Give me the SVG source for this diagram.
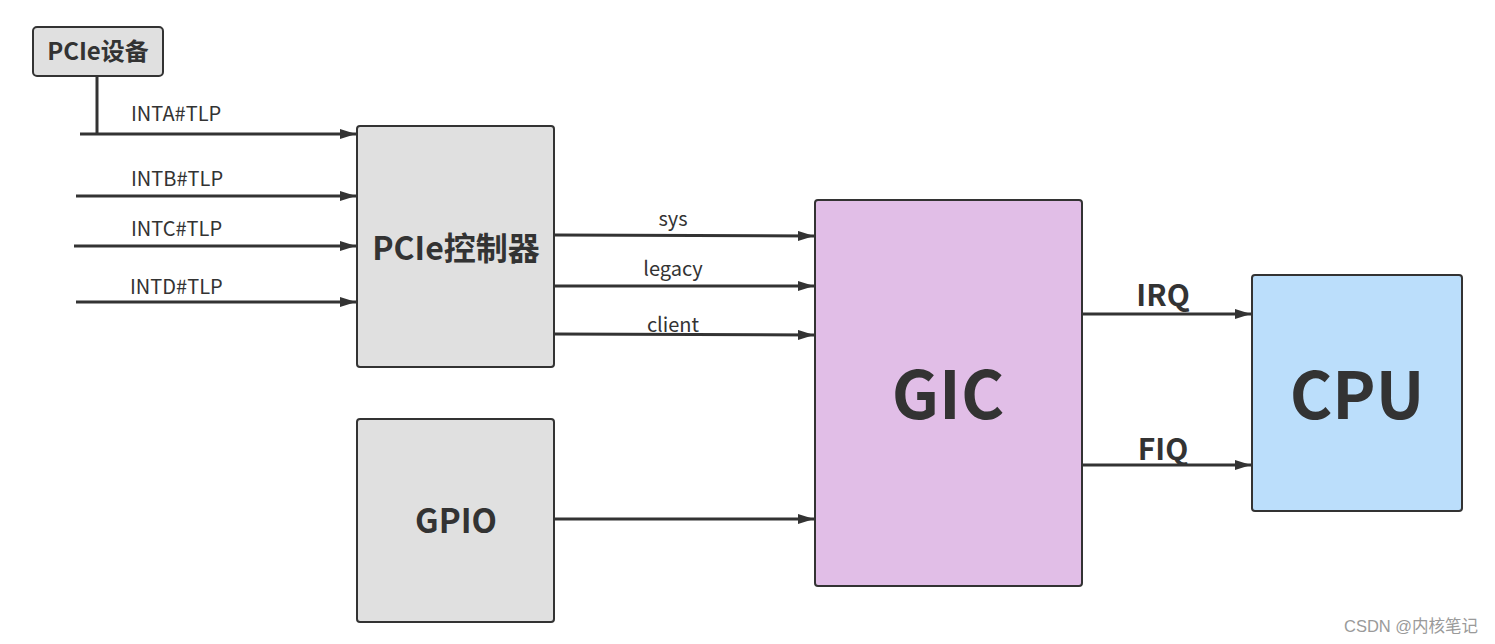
<svg xmlns="http://www.w3.org/2000/svg" width="1495" height="644" viewBox="0 0 1495 644">
<style>
.box{stroke:#333;stroke-width:2}
.gray{fill:#e0e0e0}
.ln{stroke:#333;stroke-width:3;fill:none}
.t{font-family:"Noto Sans CJK SC","Noto Sans",sans-serif;fill:#333}
.lbl{font-size:20px}
.b{font-weight:bold}
</style>
<defs>
<marker id="ahb" markerWidth="16" markerHeight="10" refX="16" refY="5" orient="auto" markerUnits="userSpaceOnUse" viewBox="0 0 16 10">
<path d="M0,0 L16,5 L0,10 z" fill="#333"/>
</marker>
</defs>
<rect width="1495" height="644" fill="#fff"/>
<g id="connectors">
<line class="ln" x1="97" y1="76" x2="97" y2="134"/>
<line class="ln" x1="80" y1="134" x2="356" y2="134" marker-end="url(#ahb)"/>
<line class="ln" x1="76" y1="196" x2="356" y2="196" marker-end="url(#ahb)"/>
<line class="ln" x1="74" y1="246" x2="356" y2="246" marker-end="url(#ahb)"/>
<line class="ln" x1="76" y1="302" x2="356" y2="302" marker-end="url(#ahb)"/>
<line class="ln" x1="555" y1="235" x2="814" y2="236" marker-end="url(#ahb)"/>
<line class="ln" x1="555" y1="286" x2="814" y2="286" marker-end="url(#ahb)"/>
<line class="ln" x1="555" y1="334" x2="814" y2="335" marker-end="url(#ahb)"/>
<line class="ln" x1="555" y1="519" x2="814" y2="519" marker-end="url(#ahb)"/>
<line class="ln" x1="1083" y1="314" x2="1251" y2="314" marker-end="url(#ahb)"/>
<line class="ln" x1="1083" y1="465" x2="1251" y2="465" marker-end="url(#ahb)"/>
<text class="t lbl" x="131" y="121">INTA#TLP</text>
<text class="t lbl" x="131" y="186">INTB#TLP</text>
<text class="t lbl" x="131" y="236">INTC#TLP</text>
<text class="t lbl" x="130" y="294">INTD#TLP</text>
<text class="t lbl" x="673" y="226" text-anchor="middle">sys</text>
<text class="t lbl" x="673" y="276" text-anchor="middle">legacy</text>
<text class="t lbl" x="673" y="332" text-anchor="middle">client</text>
<text class="t b" x="1163" y="306" font-size="30" text-anchor="middle">IRQ</text>
<text class="t b" x="1163" y="460" font-size="30" text-anchor="middle">FIQ</text>
</g>
<g id="pcie-dev">
<rect class="box gray" x="33" y="27" width="130" height="49" rx="4"/>
<text class="t b" x="98" y="60" font-size="24" text-anchor="middle">PCIe设备</text>
</g>
<g id="pcie-ctrl">
<rect class="box gray" x="357" y="126" width="197" height="241" rx="3"/>
<text class="t b" x="456" y="260" font-size="32" text-anchor="middle">PCIe控制器</text>
</g>
<g id="gpio">
<rect class="box gray" x="357" y="419" width="197" height="203" rx="3"/>
<text class="t b" x="456" y="533" font-size="33" text-anchor="middle">GPIO</text>
</g>
<g id="gic">
<rect class="box" x="815" y="200" width="267" height="386" rx="3" fill="#e1bee7"/>
<text class="t b" x="948" y="419" font-size="66" text-anchor="middle">GIC</text>
</g>
<g id="cpu">
<rect class="box" x="1252" y="275" width="210" height="236" rx="3" fill="#bbdefb"/>
<text class="t b" x="1357" y="419" font-size="65" text-anchor="middle">CPU</text>
</g>
<text x="1344" y="632" font-size="16.5" fill="#9a9a9a" font-family="'Liberation Sans','Noto Sans CJK SC',sans-serif">CSDN @内核笔记</text>
</svg>
